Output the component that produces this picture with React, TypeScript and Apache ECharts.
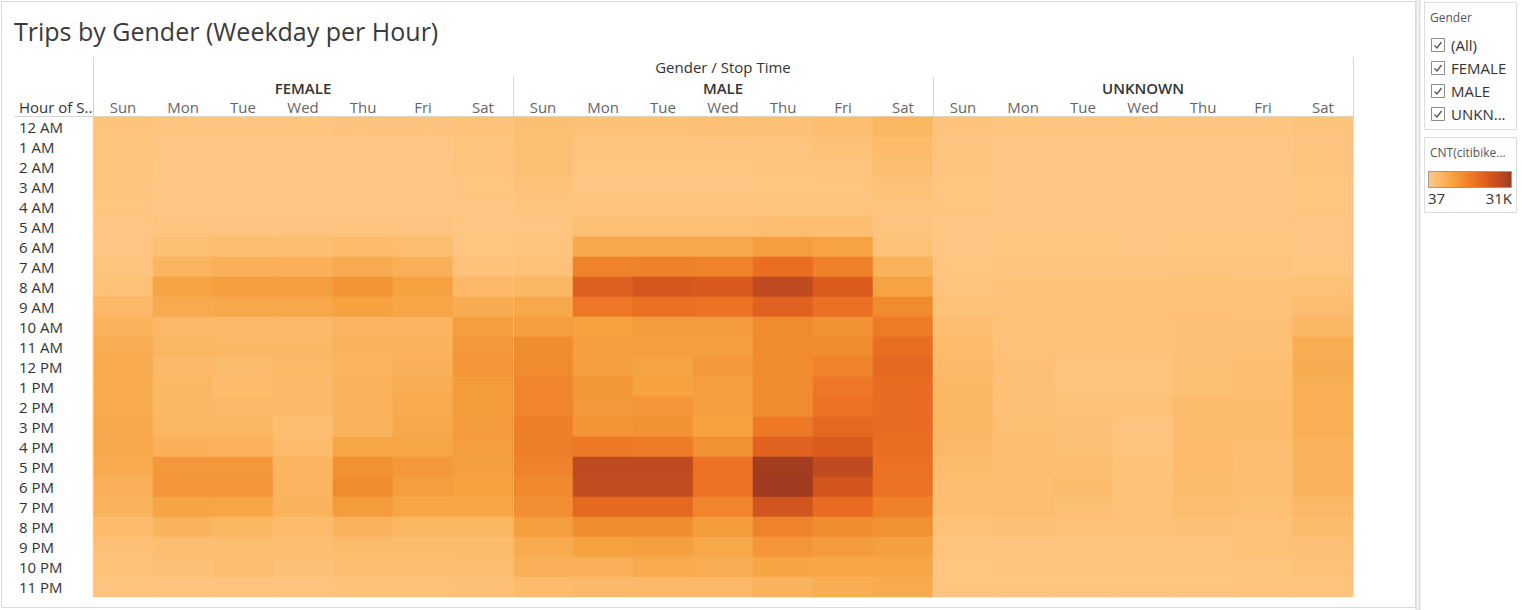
import React, { useEffect, useRef } from 'react';
import * as echarts from 'echarts';

const days = ['Sun', 'Mon', 'Tue', 'Wed', 'Thu', 'Fri', 'Sat'];
const genders = ['FEMALE', 'MALE', 'UNKNOWN'];
const hours = [
  '12 AM', '1 AM', '2 AM', '3 AM', '4 AM', '5 AM', '6 AM', '7 AM', '8 AM', '9 AM', '10 AM', '11 AM',
  '12 PM', '1 PM', '2 PM', '3 PM', '4 PM', '5 PM', '6 PM', '7 PM', '8 PM', '9 PM', '10 PM', '11 PM',
];

// trip counts per hour (rows) and weekday Sun..Sat (columns)
const femaleCounts = [
  [1240, 620, 620, 620, 930, 930, 1550],
  [1240, 310, 310, 310, 310, 310, 1240],
  [1240, 150, 150, 150, 150, 150, 930],
  [930, 60, 60, 60, 60, 60, 620],
  [620, 40, 40, 40, 40, 40, 310],
  [310, 930, 930, 930, 930, 930, 310],
  [310, 2480, 3100, 2790, 3720, 3100, 620],
  [930, 5270, 6200, 6200, 7130, 6200, 1550],
  [1860, 8990, 9920, 9920, 11780, 9300, 4340],
  [4340, 7440, 8060, 8060, 9300, 8370, 7130],
  [5890, 4340, 4030, 4030, 5270, 5270, 9920],
  [6820, 4960, 4650, 4650, 5890, 5890, 10850],
  [7440, 4030, 3410, 4340, 5270, 6200, 11470],
  [7440, 4650, 3720, 4030, 5890, 6820, 10540],
  [7440, 4650, 4340, 4030, 5890, 7440, 10540],
  [7750, 4960, 4960, 2790, 5580, 8060, 10230],
  [7750, 6200, 5890, 3720, 8370, 8370, 9920],
  [7440, 10850, 10850, 5270, 12400, 10850, 9610],
  [6200, 11470, 11470, 5270, 13330, 9920, 9300],
  [5580, 8680, 8370, 5580, 10540, 8370, 8370],
  [3720, 5580, 4960, 3720, 5580, 4960, 4960],
  [2170, 2790, 3100, 2790, 3410, 3410, 3410],
  [1550, 2170, 2790, 2170, 2790, 2790, 3100],
  [930, 930, 930, 930, 1550, 1550, 2170],
];

const maleCounts = [
  [2480, 1860, 1860, 2170, 2170, 2790, 4960],
  [2480, 930, 930, 930, 1240, 1860, 3720],
  [2480, 620, 620, 620, 930, 1240, 3100],
  [1550, 310, 310, 310, 620, 620, 1860],
  [1240, 930, 930, 930, 930, 930, 1240],
  [620, 2480, 2480, 2480, 2790, 2790, 930],
  [1240, 8060, 8060, 8060, 9920, 8990, 1860],
  [1860, 14570, 14880, 14570, 17980, 14880, 5890],
  [4650, 21080, 22940, 22320, 26350, 21700, 8990],
  [8060, 16430, 17670, 17360, 20460, 17670, 13330],
  [9920, 9300, 10230, 10230, 13330, 12400, 15810],
  [13020, 9610, 9920, 9610, 13330, 13020, 17980],
  [13330, 9920, 8990, 10850, 13330, 14570, 18910],
  [14260, 11160, 9300, 9920, 13330, 16430, 18600],
  [14260, 10850, 11470, 9920, 13330, 17360, 18600],
  [15190, 11780, 12090, 9300, 16120, 19220, 18600],
  [15190, 16120, 15810, 12400, 20460, 21700, 17980],
  [14570, 26350, 26350, 17360, 30380, 26350, 17360],
  [13640, 26040, 26040, 17360, 31000, 23250, 17050],
  [12710, 19220, 19220, 14260, 23560, 18600, 14880],
  [9920, 13020, 13020, 10540, 14570, 13330, 12400],
  [7440, 9300, 9610, 8060, 11470, 10230, 9610],
  [6200, 6200, 7440, 6820, 8680, 8370, 8370],
  [3720, 4030, 4340, 4340, 5580, 6820, 7440],
];

const unknownCounts = [
  [1240, 620, 620, 620, 620, 620, 1240],
  [930, 310, 310, 310, 310, 310, 930],
  [930, 150, 150, 150, 150, 150, 930],
  [620, 37, 37, 37, 37, 37, 620],
  [620, 40, 40, 40, 40, 40, 620],
  [310, 310, 310, 310, 310, 310, 310],
  [310, 620, 620, 310, 620, 620, 310],
  [620, 930, 930, 930, 930, 930, 620],
  [930, 1550, 1550, 1550, 1860, 1550, 1860],
  [1860, 1550, 1550, 1860, 1860, 1550, 3100],
  [3100, 1860, 1550, 1550, 2170, 2170, 4650],
  [3720, 1550, 1550, 1550, 2170, 2170, 6820],
  [4030, 2170, 1240, 1240, 2480, 2790, 7130],
  [4650, 2170, 1240, 1240, 2480, 2790, 6510],
  [4650, 2170, 1860, 1860, 3410, 3410, 6510],
  [4650, 2480, 2170, 930, 3410, 3410, 6510],
  [4340, 2790, 2480, 1240, 3720, 3100, 5890],
  [3410, 2790, 2790, 1550, 3720, 2790, 5890],
  [2790, 2790, 3410, 1550, 3410, 2790, 5580],
  [2790, 3100, 2480, 1860, 3100, 2480, 4340],
  [1860, 2170, 1860, 1550, 2170, 1860, 3410],
  [1240, 930, 930, 930, 1240, 1860, 2170],
  [620, 930, 930, 930, 930, 1240, 1860],
  [620, 620, 620, 620, 620, 930, 1240],
];

const minCount = 37;
const maxCount = 31000;
const rampColors = ['#FFC785', '#FCB866', '#F6A443', '#F18B30', '#EB6F22', '#DA5A1E', '#BE4A20', '#A03A20'];

const FONT = '"Open Sans", "Noto Sans", sans-serif';
const LABEL_SIZE = 15;
const GRID_LEFT = 93;
const GRID_TOP = 117;
const COL_W = 60;
const ROW_H = 20;

const App: React.FC = () => {
  const chartRef = useRef<HTMLDivElement>(null);

  useEffect(() => {
    if (!chartRef.current) return;
    const chart = echarts.init(chartRef.current, undefined, { renderer: 'svg' });

    const xKeys: string[] = [];
    genders.forEach((g) => days.forEach((d) => xKeys.push(`${g}|${d}`)));

    const blocks = [femaleCounts, maleCounts, unknownCounts];
    const cells: number[][] = [];
    blocks.forEach((rows, g) => {
      rows.forEach((row, h) => {
        row.forEach((v, d) => cells.push([g * days.length + d, h, v]));
      });
    });

    const gridW = xKeys.length * COL_W;
    const gridH = hours.length * ROW_H;
    const blockW = days.length * COL_W;
    const lineColor = '#d4d4d4';

    const checkbox = (y: number, label: string) => [
      {
        type: 'rect',
        shape: { x: 1431.5, y: y - 6.5, width: 13, height: 13 },
        style: { fill: '#fff', stroke: '#8c8c8c', lineWidth: 1 },
      },
      {
        type: 'polyline',
        shape: { points: [[1434.5, y + 0.5], [1437, y + 3], [1441.5, y - 3]] },
        style: { stroke: '#555', lineWidth: 1.3, fill: 'none' },
      },
      {
        type: 'text',
        x: 1451,
        y,
        style: { text: label, font: `${LABEL_SIZE}px ${FONT}`, fill: '#333', textVerticalAlign: 'middle' },
      },
    ];

    const option: echarts.EChartsOption = {
      animation: false,
      backgroundColor: '#fff',
      grid: { left: GRID_LEFT, top: GRID_TOP, width: gridW, height: gridH },
      xAxis: [
        {
          type: 'category',
          data: xKeys,
          position: 'top',
          axisLine: { show: false },
          axisTick: { show: false },
          splitLine: { show: false },
          axisLabel: {
            formatter: (v: string) => v.split('|')[1],
            color: '#666',
            fontSize: LABEL_SIZE,
            fontFamily: FONT,
            margin: 3,
            interval: 0,
          },
        },
        {
          type: 'category',
          data: genders,
          position: 'top',
          offset: 20,
          z: 5,
          axisLine: { show: false },
          axisTick: { show: false },
          splitLine: { show: true, lineStyle: { color: 'rgba(215,215,215,0.6)', width: 1 } },
          axisLabel: {
            color: '#333',
            fontSize: LABEL_SIZE,
            fontWeight: 600,
            fontFamily: FONT,
            margin: 2,
          },
        },
      ],
      yAxis: {
        type: 'category',
        data: hours,
        inverse: true,
        axisLine: { show: false },
        axisTick: { show: false },
        splitLine: { show: false },
        axisLabel: {
          align: 'left',
          margin: GRID_LEFT - 19,
          color: '#333',
          fontSize: LABEL_SIZE,
          fontFamily: FONT,
          interval: 0,
        },
      },
      visualMap: {
        show: false,
        type: 'continuous',
        min: minCount,
        max: maxCount,
        dimension: 2,
        inRange: { color: rampColors },
      },
      series: [
        {
          type: 'heatmap',
          xAxisIndex: 0,
          data: cells,
          itemStyle: { borderWidth: 0 },
          emphasis: { disabled: true },
          progressive: 0,
        },
      ],
      graphic: [
        // panel borders
        {
          type: 'rect',
          shape: { x: 1.5, y: 1.5, width: 1414, height: 606 },
          style: { fill: 'none', stroke: '#d9d9d9', lineWidth: 1 },
        },
        {
          type: 'rect',
          shape: { x: 1416, y: 0, width: 4, height: 610 },
          style: { fill: '#f0f0f0', stroke: '#d9d9d9', lineWidth: 1 },
        },
        {
          type: 'text',
          x: 14,
          y: 31,
          style: {
            text: 'Trips by Gender (Weekday per Hour)',
            font: `25px ${FONT}`,
            fill: '#3a3a3a',
            textVerticalAlign: 'middle',
          },
        },
        {
          type: 'text',
          x: GRID_LEFT + gridW / 2,
          y: 67,
          style: {
            text: 'Gender / Stop Time',
            font: `${LABEL_SIZE}px ${FONT}`,
            fill: '#333',
            textAlign: 'center',
            textVerticalAlign: 'middle',
          },
        },
        {
          type: 'text',
          x: 19,
          y: 107,
          style: { text: 'Hour of S..', font: `${LABEL_SIZE}px ${FONT}`, fill: '#333', textVerticalAlign: 'middle' },
        },
        // header rules
        {
          type: 'line',
          shape: { x1: GRID_LEFT + 0.5, y1: 57, x2: GRID_LEFT + 0.5, y2: GRID_TOP + gridH },
          style: { stroke: lineColor, lineWidth: 1 },
        },
        {
          type: 'line',
          shape: { x1: GRID_LEFT + gridW + 0.5, y1: 57, x2: GRID_LEFT + gridW + 0.5, y2: GRID_TOP },
          style: { stroke: lineColor, lineWidth: 1 },
        },
        {
          type: 'line',
          shape: { x1: GRID_LEFT + blockW + 0.5, y1: 77, x2: GRID_LEFT + blockW + 0.5, y2: GRID_TOP },
          style: { stroke: lineColor, lineWidth: 1 },
        },
        {
          type: 'line',
          shape: { x1: GRID_LEFT + 2 * blockW + 0.5, y1: 77, x2: GRID_LEFT + 2 * blockW + 0.5, y2: GRID_TOP },
          style: { stroke: lineColor, lineWidth: 1 },
        },
        {
          type: 'line',
          shape: { x1: 14, y1: GRID_TOP - 0.5, x2: GRID_LEFT + gridW, y2: GRID_TOP - 0.5 },
          style: { stroke: lineColor, lineWidth: 1 },
        },
        // gender filter card
        {
          type: 'rect',
          shape: { x: 1424.5, y: 2.5, width: 92, height: 127 },
          style: { fill: '#fff', stroke: '#dcdcdc', lineWidth: 1 },
        },
        {
          type: 'text',
          x: 1430,
          y: 17,
          style: { text: 'Gender', font: `12px ${FONT}`, fill: '#555', textVerticalAlign: 'middle' },
        },
        ...checkbox(45, '(All)'),
        ...checkbox(68, 'FEMALE'),
        ...checkbox(91, 'MALE'),
        ...checkbox(114, 'UNKN...'),
        // colour legend card
        {
          type: 'rect',
          shape: { x: 1424.5, y: 137.5, width: 92, height: 75 },
          style: { fill: '#fff', stroke: '#dcdcdc', lineWidth: 1 },
        },
        {
          type: 'text',
          x: 1430,
          y: 152,
          style: { text: 'CNT(citibike...', font: `12px ${FONT}`, fill: '#555', textVerticalAlign: 'middle' },
        },
        {
          type: 'rect',
          shape: { x: 1428.5, y: 171.5, width: 83, height: 16 },
          style: {
            fill: new echarts.graphic.LinearGradient(
              0, 0, 1, 0,
              rampColors.map((c, i) => ({ offset: i / (rampColors.length - 1), color: c }))
            ),
            stroke: '#999',
            lineWidth: 1,
          },
        },
        {
          type: 'text',
          x: 1428,
          y: 198,
          style: { text: String(minCount), font: `${LABEL_SIZE}px ${FONT}`, fill: '#333', textVerticalAlign: 'middle' },
        },
        {
          type: 'text',
          x: 1512,
          y: 198,
          style: {
            text: `${Math.round(maxCount / 1000)}K`,
            font: `${LABEL_SIZE}px ${FONT}`,
            fill: '#333',
            textAlign: 'right',
            textVerticalAlign: 'middle',
          },
        },
      ],
    };

    chart.setOption(option);
    return () => {
      chart.dispose();
    };
  }, []);

  return (
    <div
      ref={chartRef}
      style={{ position: 'fixed', left: 0, top: 0, width: 1522, height: 610, background: '#fff' }}
    />
  );
};

export default App;
